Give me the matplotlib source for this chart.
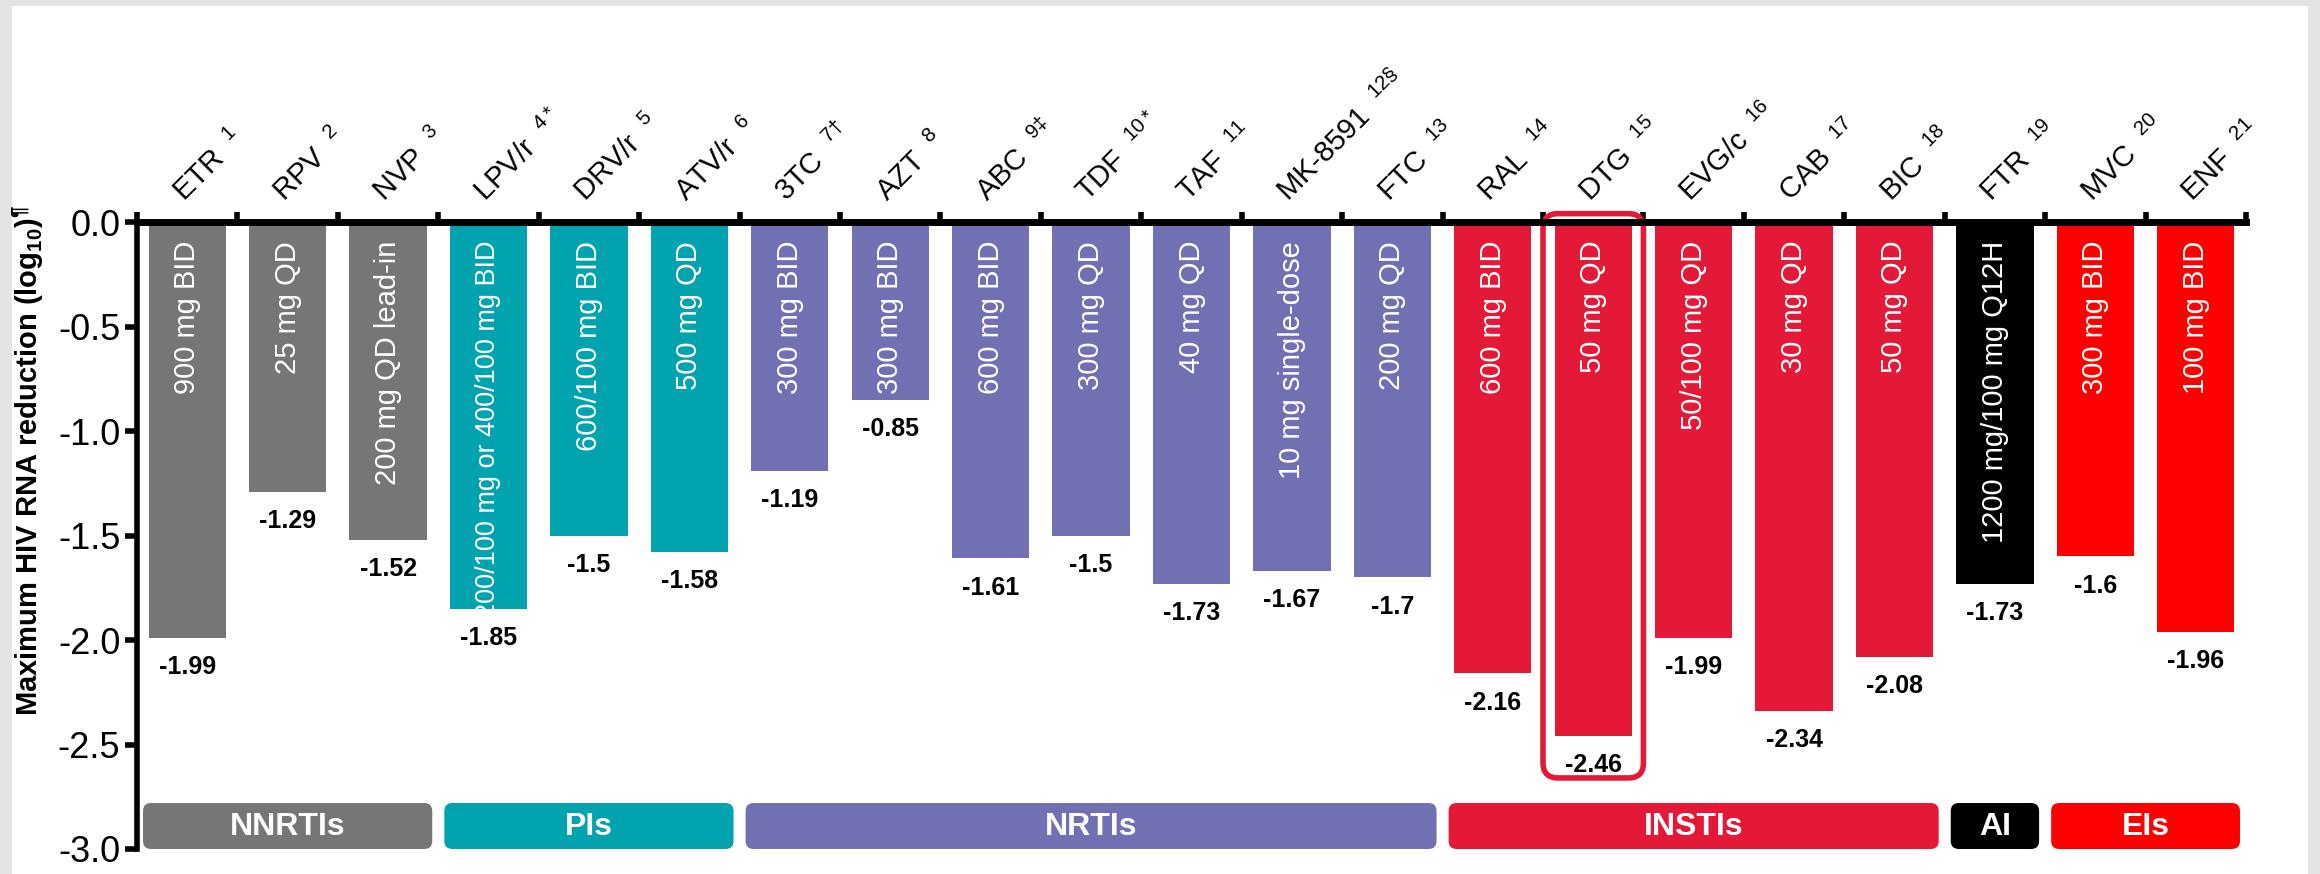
import numpy as np
import matplotlib
matplotlib.use('Agg')
import matplotlib.pyplot as plt
from matplotlib.patches import FancyBboxPatch, Rectangle
from matplotlib.ticker import FormatStrFormatter

plt.rcParams['font.family'] = ['Liberation Sans', 'DejaVu Sans']
plt.rcParams['mathtext.default'] = 'regular'

# drugs, reference numbers, max viral load reduction and dose
drugs = ['ETR', 'RPV', 'NVP', 'LPV/r', 'DRV/r', 'ATV/r', '3TC', 'AZT', 'ABC', 'TDF', 'TAF',
         'MK-8591', 'FTC', 'RAL', 'DTG', 'EVG/c', 'CAB', 'BIC', 'FTR', 'MVC', 'ENF']
refs = ['1', '2', '3', '4*', '5', '6', '7†', '8', '9‡', '10*', '11', '12§', '13', '14',
        '15', '16', '17', '18', '19', '20', '21']
reduction = [-1.99, -1.29, -1.52, -1.85, -1.5, -1.58, -1.19, -0.85, -1.61, -1.5, -1.73,
             -1.67, -1.7, -2.16, -2.46, -1.99, -2.34, -2.08, -1.73, -1.6, -1.96]
doses = ['900 mg BID', '25 mg QD', '200 mg QD lead-in', '200/100 mg or 400/100 mg BID',
         '600/100 mg BID', '500 mg QD', '300 mg BID', '300 mg BID', '600 mg BID', '300 mg QD',
         '40 mg QD', '10 mg single-dose', '200 mg QD', '600 mg BID', '50 mg QD', '50/100 mg QD',
         '30 mg QD', '50 mg QD', '1200 mg/100 mg Q12H', '300 mg BID', '100 mg BID']

# drug classes
classes = ['NNRTIs', 'PIs', 'NRTIs', 'INSTIs', 'AI', 'EIs']
class_sizes = [3, 3, 7, 5, 1, 2]
class_colors = ['#767676', '#00A3AE', '#7170B2', '#E31937', '#000000', '#FF0000']
highlight = 'DTG'

bar_colors = []
for c, n in zip(class_colors, class_sizes):
    bar_colors += [c] * n

narrow = ['Liberation Sans Narrow', 'Liberation Sans']

fig = plt.figure(figsize=(23.2, 8.74), dpi=100, facecolor='#E4E4E4')
fig.patches.append(Rectangle((12 / 2320, 0), (2308 - 12) / 2320, 1 - 6 / 874,
                             transform=fig.transFigure, facecolor='white',
                             edgecolor='none', zorder=-10))
ax = fig.add_axes([137 / 2320, 1 - 849 / 874, 2109 / 2320, 627 / 874])
ax.set_facecolor('none')
ax.set_zorder(2)

x = np.arange(len(drugs))
ax.bar(x, reduction, width=0.77, color=bar_colors, zorder=2)

ax.set_xlim(-0.5, len(drugs) - 0.5)
ax.set_ylim(-3.0, 0.0)

# spines and ticks
for s in ['bottom', 'right']:
    ax.spines[s].set_visible(False)
ax.spines['top'].set_linewidth(5)
ax.spines['left'].set_linewidth(4)
ax.spines['top'].set_zorder(5)
ax.xaxis.tick_top()
ax.set_xticks(np.arange(-0.5, len(drugs), 1.0))
ax.set_xticklabels([])
ax.tick_params(axis='x', direction='out', length=7, width=4)
ax.set_yticks(np.arange(-3.0, 0.01, 0.5))
ax.yaxis.set_major_formatter(FormatStrFormatter('%.1f'))
ax.tick_params(axis='y', direction='out', length=9, width=4, pad=3)
for lab in ax.get_yticklabels():
    lab.set_family(narrow)
    lab.set_fontsize(26)

ax.set_ylabel('Maximum HIV RNA reduction (log$_{10}$)$^{¶}$', fontsize=21,
              fontweight='bold')
ax.yaxis.set_label_coords(-0.043, 0.62)

# drug names with reference superscripts
for i, (d, r) in enumerate(zip(drugs, refs)):
    ax.text(i - 0.03, 0.095, d + '  $^{' + r + '}$', rotation=45, rotation_mode='anchor',
            ha='left', va='baseline', fontsize=21, clip_on=False)

# dose text inside bars and value below
for i, (v, dose) in enumerate(zip(reduction, doses)):
    fs = 19.5 if len(dose) > 24 else 21
    ax.text(i, -0.09, dose, rotation=90, ha='center', va='top', color='white',
            fontsize=fs, zorder=3)
    ax.text(i, v - 0.14, f'{v:g}', ha='center', va='center', fontsize=18,
            fontweight='bold', family=narrow, zorder=3)

# highlight box
hi = drugs.index(highlight)
aspect = (3.0 / 627) / (len(drugs) / 2109)
ax.add_patch(FancyBboxPatch((hi - 0.5, -2.66), 1.0, 2.7,
                            boxstyle='round,pad=0,rounding_size=0.15',
                            mutation_aspect=aspect, facecolor='none',
                            edgecolor='#E31937', linewidth=4, zorder=4, clip_on=False))

# class boxes
start = 0
for name, n, c in zip(classes, class_sizes, class_colors):
    x0 = start - 0.44
    w = n - 1 + 0.88
    ax.add_patch(FancyBboxPatch((x0, -3.0), w, 0.22,
                                boxstyle='round,pad=0,rounding_size=0.08',
                                mutation_aspect=aspect, facecolor=c, edgecolor='none',
                                zorder=3, clip_on=False))
    ax.text(x0 + w / 2, -2.895, name, ha='center', va='center', color='white',
            fontsize=23, fontweight='bold', family=narrow, zorder=4)
    start += n

fig.savefig('out.png', dpi=100, facecolor=fig.get_facecolor())
